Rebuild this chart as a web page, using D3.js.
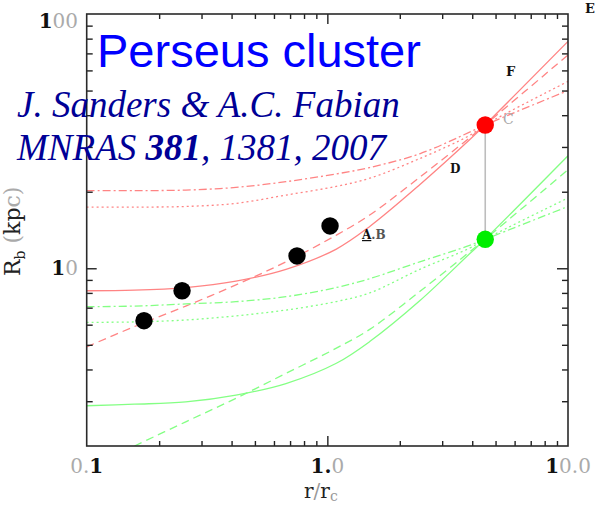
<!DOCTYPE html>
<html>
<head>
<meta charset="utf-8">
<script src="https://cdn.jsdelivr.net/npm/d3@7/dist/d3.min.js"></script>
<style>
  body { margin: 0; background: #fff; }
  svg { display: block; }
</style>
</head>
<body>
<div id="chart"></div>
<script>
// r / r_c sample positions
const radius = [0.1, 0.158, 0.258, 0.417, 0.673, 1.09, 1.5, 2.42, 3.9, 4.52, 10];

// model curves, R_b in kpc (null = below the frame)
const redSolid   = [8.16, 8.2, 8.4, 8.9, 9.9, 11.9, 14.6, 21.3, 32.0, 36.6, 78];
const redDashed  = [4.91, 5.9, 7.1, 8.6, 10.6, 13.5, 16.2, 22.8, 32.6, 36.6, 69];
const redDotted  = [17.4, 17.4, 17.5, 18.0, 19.4, 21.0, 22.6, 27.0, 33.3, 36.6, 54.3];
const redDashDot = [20.2, 20.2, 20.3, 20.8, 21.9, 23.5, 24.9, 28.2, 34.3, 36.6, 50.0];
const greenSolid   = [2.88, 2.92, 2.98, 3.17, 3.52, 4.23, 5.15, 7.45, 11.4, 13.0, 27.7];
const greenDashed  = [null, 2.0, 2.49, 3.08, 3.86, 4.85, 5.75, 8.1, 11.6, 13.0, 24.4];
const greenDotted  = [6.13, 6.15, 6.26, 6.5, 6.85, 7.4, 8.0, 9.9, 12.0, 13.0, 18.9];
const greenDashDot = [7.06, 7.1, 7.24, 7.39, 7.73, 8.4, 9.1, 10.6, 12.3, 13.0, 17.5];

// measured points
const obsX = [0.173, 0.249, 0.748, 1.026];
const obsY = [6.22, 8.16, 11.18, 14.67];
const markX = 4.53;
const markRed = 36.6;
const markGreen = 13.0;

// axes
const xMinor = [0.2, 0.3, 0.4, 0.5, 0.6, 0.7, 0.8, 0.9, 2, 3, 4, 5, 6, 7, 8, 9];
const xMajor = [1];
const xLabels = [0.1, 1, 10];
const xLabelText = ["0.1", "1.0", "10.0"];
const yMinor = [3, 4, 5, 6, 7, 8, 9, 20, 30, 40, 50, 60, 70, 80, 90];
const yMajor = [10];
const yLabels = [10, 100];
const yLabelText = ["10", "100"];

const W = 596, H = 505;
const pLeft = 86.7, pRight = 568, pTop = 14, pBottom = 446;

const x = d3.scaleLog().domain([0.1, 10]).range([pLeft, pRight]);
const y = d3.scaleLog().domain([2, 100]).range([pBottom, pTop]);

const svg = d3.select("#chart").append("svg")
    .attr("width", W).attr("height", H)
    .attr("viewBox", "0 0 " + W + " " + H);

svg.append("defs").append("clipPath").attr("id", "plot")
    .append("rect")
    .attr("x", pLeft).attr("y", pTop)
    .attr("width", pRight - pLeft).attr("height", pBottom - pTop);

const curves = [
    { v: redSolid, c: "#ff8484", dash: null },
    { v: redDashed, c: "#ff8484", dash: "8,5" },
    { v: redDotted, c: "#ff8484", dash: "2,3" },
    { v: redDashDot, c: "#ff8484", dash: "8,3,2,3" },
    { v: greenSolid, c: "#84ff84", dash: null },
    { v: greenDashed, c: "#84ff84", dash: "8,5" },
    { v: greenDotted, c: "#84ff84", dash: "2,3" },
    { v: greenDashDot, c: "#84ff84", dash: "8,3,2,3" }
];

const line = d3.line()
    .defined(d => d[1] != null)
    .x(d => x(d[0]))
    .y(d => y(d[1]))
    .curve(d3.curveCatmullRom.alpha(0.5));

const g = svg.append("g").attr("clip-path", "url(#plot)");
curves.forEach(cv => {
    g.append("path")
        .datum(radius.map((r, i) => [r, cv.v[i]]))
        .attr("fill", "none")
        .attr("stroke", cv.c)
        .attr("stroke-width", 1.3)
        .attr("stroke-dasharray", cv.dash)
        .attr("d", line);
});

// ticks, all pointing into the frame
function ticks(axis, scale, values, len, tf) {
    const a = axis(scale).tickValues(values).tickSize(-len).tickSizeOuter(0).tickFormat("");
    const t = svg.append("g").attr("transform", tf).call(a);
    t.select(".domain").remove();
    t.selectAll("line").attr("stroke", "#222").attr("stroke-width", 1.4);
}
ticks(d3.axisBottom, x, xMinor, 5, "translate(0," + pBottom + ")");
ticks(d3.axisBottom, x, xMajor, 10, "translate(0," + pBottom + ")");
ticks(d3.axisTop, x, xMinor, 5, "translate(0," + pTop + ")");
ticks(d3.axisTop, x, xMajor, 10, "translate(0," + pTop + ")");
ticks(d3.axisLeft, y, yMinor, 6, "translate(" + pLeft + ",0)");
ticks(d3.axisLeft, y, yMajor, 10, "translate(" + pLeft + ",0)");
ticks(d3.axisRight, y, yMinor, 6, "translate(" + pRight + ",0)");
ticks(d3.axisRight, y, yMajor, 11, "translate(" + pRight + ",0)");

svg.append("rect")
    .attr("x", pLeft).attr("y", pTop)
    .attr("width", pRight - pLeft).attr("height", pBottom - pTop)
    .attr("fill", "none")
    .attr("stroke", "#2a2a2a")
    .attr("stroke-width", 1.6);

// the "1" digits print dark, the rest faded, as in the scan
function pieces(s) {
    const out = [];
    for (let i = 0; i < s.length; i++) {
        const dark = s[i] == "1" || (s[i] == "." && s[i - 1] == "1");
        if (out.length && out[out.length - 1].dark == dark) out[out.length - 1].t += s[i];
        else out.push({ t: s[i], dark: dark });
    }
    return out;
}
function label(sel, s) {
    pieces(s).forEach(p => {
        sel.append("tspan")
            .attr("fill", p.dark ? "#111" : "#aaa")
            .attr("font-weight", p.dark ? "bold" : "normal")
            .text(p.t);
    });
}

const tickFont = "'DejaVu Serif', serif";
xLabels.forEach((v, i) => {
    const t = svg.append("text")
        .attr("x", x(v)).attr("y", 473)
        .attr("text-anchor", "middle")
        .attr("font-family", tickFont).attr("font-size", 20);
    label(t, xLabelText[i]);
});
yLabels.forEach((v, i) => {
    const t = svg.append("text")
        .attr("x", 78).attr("y", Math.max(y(v) + 7, pTop + 13.5))
        .attr("text-anchor", "end")
        .attr("font-family", tickFont).attr("font-size", 20);
    label(t, yLabelText[i]);
});

// axis titles
const xt = svg.append("text")
    .attr("x", 304).attr("y", 498)
    .attr("font-family", tickFont).attr("font-size", 20);
xt.append("tspan").attr("fill", "#222").text("r");
xt.append("tspan").attr("fill", "#999").text("/");
xt.append("tspan").attr("fill", "#222").text("r");
xt.append("tspan").attr("fill", "#999").attr("font-size", 14).attr("dy", 3).text("c");

const yt = svg.append("text")
    .attr("transform", "translate(20,276) rotate(-90)")
    .attr("font-family", tickFont).attr("font-size", 22);
yt.append("tspan").attr("fill", "#222").text("R");
yt.append("tspan").attr("fill", "#222").attr("font-size", 14).attr("dy", 5).text("b");
yt.append("tspan").attr("fill", "#aaa").attr("dy", -5).text(" (");
yt.append("tspan").attr("fill", "#222").text("kp");
yt.append("tspan").attr("fill", "#aaa").text("c)");

// connector and points
svg.append("line")
    .attr("x1", x(markX)).attr("x2", x(markX))
    .attr("y1", y(markRed)).attr("y2", y(markGreen))
    .attr("stroke", "#bdbdbd").attr("stroke-width", 1.6);

svg.selectAll(".obs")
    .data(obsX.map((v, i) => [v, obsY[i]]))
    .join("circle")
    .attr("class", "obs")
    .attr("cx", d => x(d[0])).attr("cy", d => y(d[1]))
    .attr("r", 8.7)
    .attr("fill", "#000");

svg.append("circle")
    .attr("cx", x(markX)).attr("cy", y(markRed)).attr("r", 8.7)
    .attr("fill", "#ff0000");
svg.append("circle")
    .attr("cx", x(markX)).attr("cy", y(markGreen)).attr("r", 8.7)
    .attr("fill", "#00ee00");

// curve tags
const tagFont = "'DejaVu Serif', serif";
[["F", 506, 76, "#111", "bold", 13],
 ["C", 503, 124, "#aaa", "normal", 14],
 ["D", 450, 173, "#111", "bold", 12],
 ["E", 585, 13, "#111", "bold", 13]].forEach(d => {
    svg.append("text")
        .attr("x", d[1]).attr("y", d[2])
        .attr("fill", d[3]).attr("font-weight", d[4])
        .attr("font-family", tagFont).attr("font-size", d[5])
        .text(d[0]);
});
const ab = svg.append("text")
    .attr("x", 362).attr("y", 239)
    .attr("font-family", tagFont).attr("font-size", 12).attr("font-weight", "bold");
ab.append("tspan").attr("fill", "#111").attr("text-decoration", "underline").text("A");
ab.append("tspan").attr("fill", "#555").text(".B");

// annotation
svg.append("text")
    .attr("x", 97).attr("y", 67)
    .attr("font-family", "'Liberation Sans', Arial, sans-serif")
    .attr("font-size", 47)
    .attr("fill", "#0000ff")
    .text("Perseus cluster");

svg.append("text")
    .attr("x", 17).attr("y", 117)
    .attr("font-family", "'Liberation Serif', 'Times New Roman', serif")
    .attr("font-style", "italic")
    .attr("font-size", 37)
    .attr("fill", "#000096")
    .text("J. Sanders & A.C. Fabian");

const ref = svg.append("text")
    .attr("x", 17).attr("y", 160)
    .attr("font-family", "'Liberation Serif', 'Times New Roman', serif")
    .attr("font-style", "italic")
    .attr("font-size", 37)
    .attr("fill", "#000096");
ref.append("tspan").text("MNRAS ");
ref.append("tspan").attr("font-weight", "bold").text("381");
ref.append("tspan").text(", 1381, 2007");
</script>
</body>
</html>
